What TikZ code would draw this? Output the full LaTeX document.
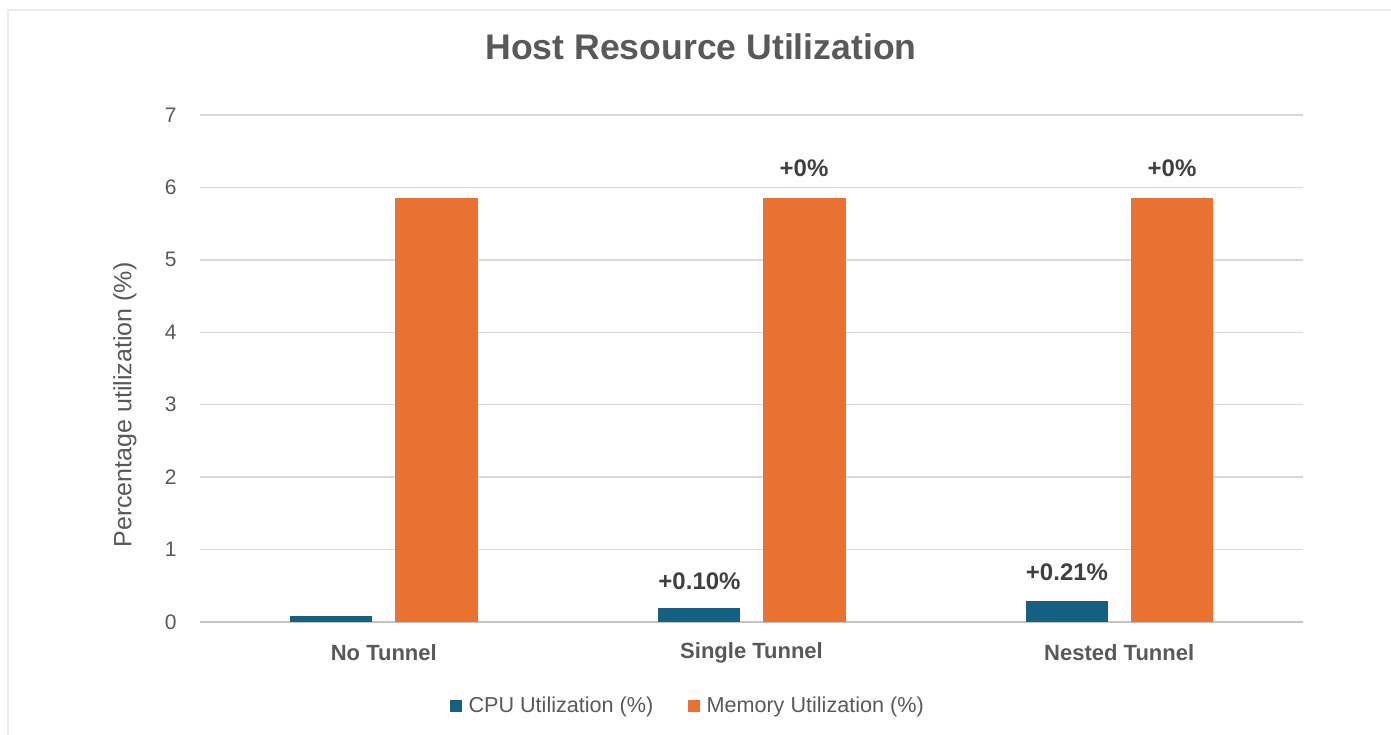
\documentclass[tikz,border=0pt]{standalone}
\usepackage{fontspec}
\setmainfont{Liberation Sans}
\usepackage{xcolor}
\usepackage{tikz}
\definecolor{cpucolor}{HTML}{156082}
\definecolor{memcolor}{HTML}{E97132}
\definecolor{labelgray}{HTML}{595959}
\definecolor{valuegray}{HTML}{404040}
\definecolor{gridgray}{HTML}{D9D9D9}
\definecolor{axisgray}{HTML}{C4C4C4}
\definecolor{framegray}{HTML}{ECECEC}

\begin{document}
\begin{tikzpicture}[x=1pt, y=-1pt,
    tick/.style={anchor=east, text=labelgray, font=\fontsize{21}{21}\selectfont},
    category/.style={text=labelgray, font=\bfseries\fontsize{22}{22}\selectfont},
    delta/.style={text=valuegray, font=\bfseries\fontsize{24}{24}\selectfont},
    legendtext/.style={anchor=west, text=labelgray, font=\fontsize{21.6}{21.6}\selectfont}]

    \useasboundingbox (0,0) rectangle (1391,735);

    % Chart area frame
    \draw[framegray, line width=1.5pt] (8,735) -- (8,10) -- (1391,10);

    % Title
    \node[text=labelgray, font=\bfseries\fontsize{35.6}{35.6}\selectfont] (title) at (701,47) {Host Resource Utilization};

    % Gridlines and ticks
    \foreach \v in {1,...,7} {
        \draw[gridgray, line width=1.5pt] (200,{622-72.43*\v}) -- (1303,{622-72.43*\v});
        \node[tick] (tick\v) at (180,{622-72.43*\v}) {\v};
    }
    \draw[axisgray, line width=1.5pt] (200,622) -- (1303,622);
    \node[tick] (tick0) at (180,622) {0};

    % Axis title
    \node[rotate=90, text=labelgray, font=\fontsize{25}{25}\selectfont] (ytitle) at (125,405) {Percentage utilization (\%)};

    % Bars
    \foreach \cx/\cpu/\mem/\name [count=\i] in {383.8/0.08/5.85/No Tunnel, 751.5/0.19/5.85/Single Tunnel, 1119.2/0.29/5.85/Nested Tunnel} {
        \fill[cpucolor] ({\cx-93.5},622) rectangle ({\cx-11.5},{622-72.43*\cpu});
        \fill[memcolor] ({\cx+11.5},622) rectangle ({\cx+94},{622-72.43*\mem});
        \node[category] (cat\i) at (\cx,653) {\name};
    }

    % Differences against no tunnel
    \node[delta] (dmem2) at (804,168) {+0\%};
    \node[delta] (dmem3) at (1172,168) {+0\%};
    \node[delta] (dcpu2) at (699.5,581) {+0.10\%};
    \node[delta] (dcpu3) at (1067,572) {+0.21\%};

    % Legend
    \fill[cpucolor] (450,700) rectangle (462,712);
    \node[legendtext] (lcpu) at (465,707) {CPU Utilization (\%)};
    \fill[memcolor] (688,700) rectangle (700,712);
    \node[legendtext] (lmem) at (703,707) {Memory Utilization (\%)};

\end{tikzpicture}
\end{document}
